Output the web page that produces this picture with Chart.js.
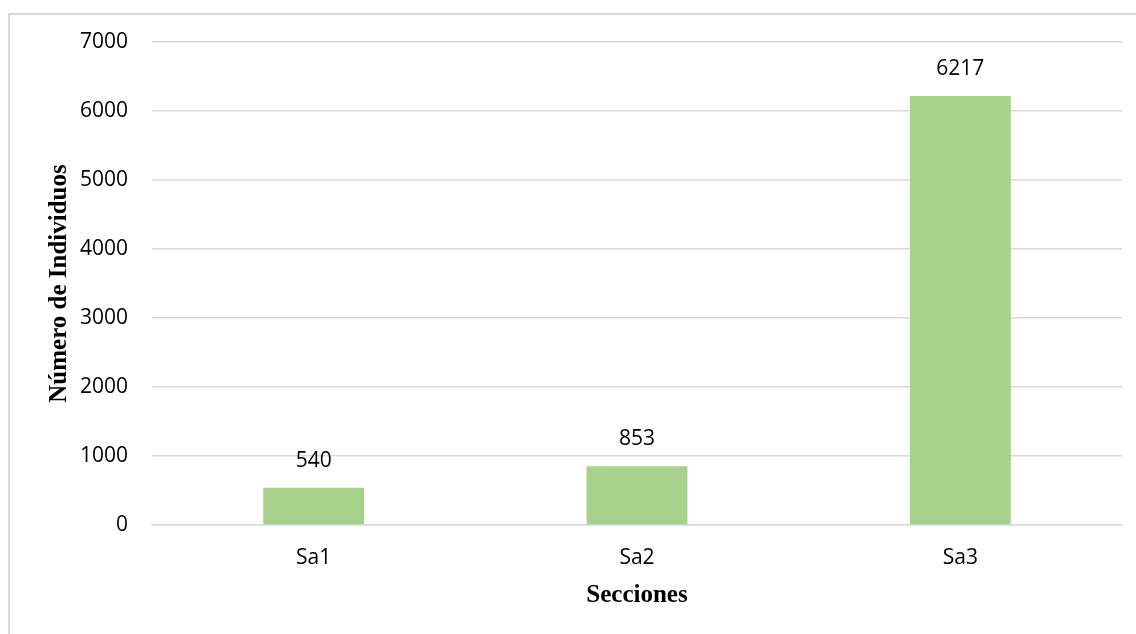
<!DOCTYPE html>
<html>
<head>
<meta charset="utf-8">
<script src="https://cdn.jsdelivr.net/npm/chart.js@4/dist/chart.umd.min.js"></script>
<style>
  html, body { margin:0; padding:0; background:#fff; overflow:hidden; }
  #wrap { position:relative; width:1136px; height:634px; }
  #frame { position:absolute; left:8px; top:13px; width:1200px; height:700px; border:2px solid #d9d9d9; box-sizing:border-box; pointer-events:none; }
  canvas { position:absolute; left:0; top:0; }
</style>
</head>
<body>
<div id="wrap">
  <canvas id="c" width="1136" height="634"></canvas>
  <div id="frame"></div>
</div>
<script>
const categories = ["Sa1", "Sa2", "Sa3"];
const values = [540, 853, 6217];
const yTicks = [0, 1000, 2000, 3000, 4000, 5000, 6000, 7000];
const xTitle = "Secciones";
const yTitle = "Número de Individuos";

const tickFont = { family: "'Open Sans', 'Liberation Sans', sans-serif", size: 21 };
const titleFont = { family: "'Liberation Serif', 'Times New Roman', serif", size: 25, weight: "bold" };

const labelPlugin = {
  id: "barLabels",
  afterDatasetsDraw(chart) {
    const ctx = chart.ctx;
    const meta = chart.getDatasetMeta(0);
    ctx.save();
    ctx.font = tickFont.size + "px " + tickFont.family;
    ctx.fillStyle = "#000";
    ctx.textAlign = "center";
    ctx.textBaseline = "middle";
    meta.data.forEach((el, i) => {
      ctx.fillText(String(values[i]), el.x, el.y - 27);
    });
    ctx.restore();
  }
};

new Chart(document.getElementById("c"), {
  type: "bar",
  data: {
    labels: categories,
    datasets: [{
      data: values,
      backgroundColor: "#A9D18E",
      borderWidth: 0,
      barPercentage: 0.312,
      categoryPercentage: 1.0
    }]
  },
  options: {
    responsive: false,
    animation: false,
    layout: { padding: { top: 42, right: 14, left: 0, bottom: 0 } },
    plugins: { legend: { display: false }, tooltip: { enabled: false } },
    scales: {
      x: {
        grid: { display: false, drawTicks: false },
        border: { display: true, color: "#d9d9d9", width: 1.5 },
        ticks: { color: "#000", font: tickFont, padding: 20 },
        title: { display: true, text: xTitle, color: "#000", font: titleFont, padding: { top: 0, bottom: 23 } },
        afterFit(scale) { scale.height = 109; }
      },
      y: {
        min: 0, max: 7000,
        afterBuildTicks(scale) { scale.ticks = yTicks.map(v => ({ value: v })); },
        grid: { color: "#d9d9d9", lineWidth: 1.5, drawTicks: false },
        border: { display: false },
        ticks: { color: "#000", font: tickFont, padding: 24, callback: (v) => String(v) },
        title: { display: true, text: yTitle, color: "#000", font: titleFont, padding: { top: 45, bottom: 0 } },
        afterFit(scale) { scale.width = 152; }
      }
    }
  },
  plugins: [labelPlugin]
});
</script>
</body>
</html>
